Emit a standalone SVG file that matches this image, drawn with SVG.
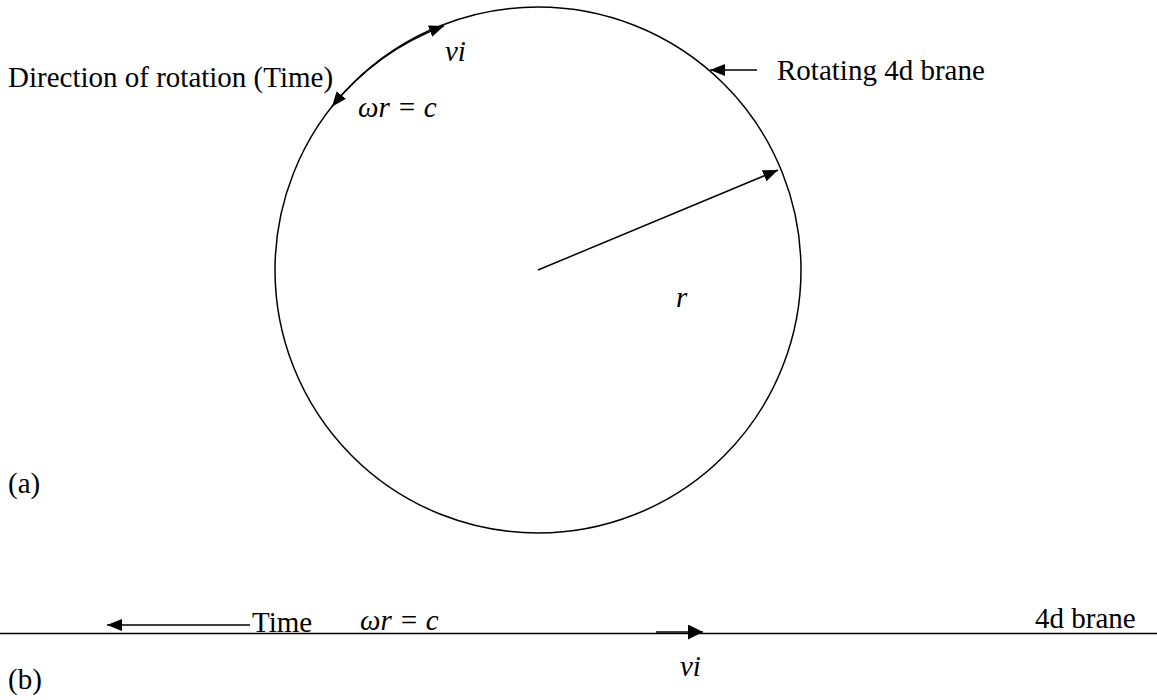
<svg xmlns="http://www.w3.org/2000/svg" width="1157" height="700" viewBox="0 0 1157 700">
<style>
text{font-family:"Liberation Serif","Times New Roman",serif;font-size:29px;fill:#000}
.it{font-style:italic}
.ln{stroke:#000;fill:none;stroke-width:1.5}
</style>
<defs>
<marker id="ahL" viewBox="0 0 10 10" refX="10" refY="5" markerWidth="15" markerHeight="12" markerUnits="userSpaceOnUse" orient="auto-start-reverse" preserveAspectRatio="none">
<path d="M0,0 L10,5 L0,10 z" fill="#000"/>
</marker>
<marker id="ahB" viewBox="0 0 10 10" refX="10" refY="5" markerWidth="15" markerHeight="15" markerUnits="userSpaceOnUse" orient="auto" preserveAspectRatio="none">
<path d="M0,0 L10,5 L0,10 z" fill="#000"/>
</marker>
</defs>
<rect width="1157" height="700" fill="#fff"/>
<g id="brane-circle">
<circle class="ln" cx="538" cy="270" r="263"/>
</g>
<g id="connectors">
<path class="ln" d="M331.9 106.7 A263 263 0 0 1 444.1 25.9" stroke-width="3" marker-start="url(#ahL)" marker-end="url(#ahL)"/>
<line class="ln" x1="538" y1="270" x2="778" y2="170" marker-end="url(#ahL)"/>
<line class="ln" x1="757" y1="70" x2="710" y2="70" marker-end="url(#ahL)"/>
<line class="ln" x1="0" y1="633.5" x2="1157" y2="633.5"/>
<line class="ln" x1="250" y1="625" x2="107" y2="625" marker-end="url(#ahL)"/>
<line class="ln" x1="656" y1="632" x2="703" y2="632" stroke-width="3.5" marker-end="url(#ahB)"/>
</g>
<g id="labels">
<text x="8" y="87">Direction of rotation (Time)</text>
<text class="it" x="445" y="61">vi</text>
<text class="it" x="358" y="117">ωr = c</text>
<text x="777" y="80">Rotating 4d brane</text>
<text class="it" x="676" y="307">r</text>
<text x="8" y="493">(a)</text>
<text x="252" y="632">Time</text>
<text class="it" x="360" y="630">ωr = c</text>
<text class="it" x="680" y="676">vi</text>
<text x="1035" y="628">4d brane</text>
<text x="8" y="689">(b)</text>
</g>
</svg>
